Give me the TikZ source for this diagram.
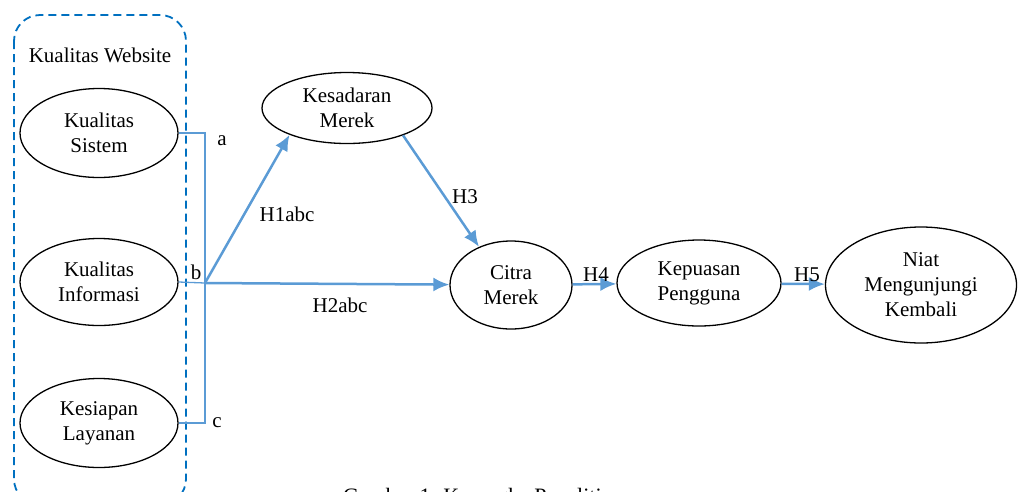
\documentclass[tikz,border=0pt]{standalone}
\usepackage{fontspec}
\setmainfont{Liberation Serif}
\usepackage{xcolor}
\usepackage{tikz}
\usetikzlibrary{arrows.meta, shapes.geometric, positioning}

\definecolor{garisbiru}{RGB}{91,155,213}
\definecolor{kotakbiru}{RGB}{0,112,192}

\tikzset{
    teks/.style={font=\fontsize{21}{25}\selectfont, align=center, inner sep=0pt},
    variabel/.style={teks, draw, ellipse, line width=1.3pt},
    panah/.style={-{Latex[length=16pt,width=14pt]}, draw=garisbiru, fill=garisbiru, line width=2.5pt},
    kurung/.style={draw=garisbiru, line width=1.3pt}
}

\begin{document}
\begin{tikzpicture}[x=1pt, y=-1pt]
    \useasboundingbox (0,0) rectangle (1019,491);
    \clip (0,0) rectangle (1019,491);

    % Kotak putus-putus untuk Kualitas Website
    \draw[kotakbiru, line width=1.8pt, dash pattern=on 8pt off 5pt, rounded corners=26pt]
        (14,15) rectangle (186,505);
    \node[teks] (kw) at (100,55) {Kualitas Website};

    % Variabel-variabel
    \node[variabel, minimum width=158pt, minimum height=89pt] (ks) at (99,133) {Kualitas\\Sistem};
    \node[variabel, minimum width=158pt, minimum height=87pt] (ki) at (99,282) {Kualitas\\Informasi};
    \node[variabel, minimum width=158pt, minimum height=89pt] (kl) at (99,423) {Kesiapan\\Layanan};
    \node[variabel, minimum width=170pt, minimum height=71pt] (km) at (347,108) {Kesadaran\\Merek};
    \node[variabel, minimum width=122pt, minimum height=88pt] (cm) at (511,285) {Citra\\Merek};
    \node[variabel, minimum width=164pt, minimum height=86pt] (kp) at (699,283) {Kepuasan\\Pengguna};
    \node[variabel, minimum width=191pt, minimum height=116pt] (nm) at (921,285) {Niat\\Mengunjungi\\Kembali};

    % Kurung penghubung a, b, c
    \coordinate (j) at (205,283);
    \draw[kurung] (ks.east) -| (j) |- (kl.east);
    \draw[kurung] (ki.east) -- (j);
    \node[teks] (la) at (222,141) {a};
    \node[teks] (lb) at (196,272) {b};
    \node[teks] (lc) at (217,423) {c};

    % Panah hipotesis
    \draw[panah] (j) -- (km.205);
    \draw[panah] (j) -- (cm);
    \draw[panah] (km.334) -- (cm.130);
    \draw[panah] (cm) -- (kp);
    \draw[panah] (kp) -- (nm);

    \node[teks] (h1) at (287,214) {H1abc};
    \node[teks] (h2) at (340,305) {H2abc};
    \node[teks] (h3) at (465,197) {H3};
    \node[teks] (h4) at (596,275) {H4};
    \node[teks] (h5) at (807,275) {H5};

    % Judul gambar (terpotong)
    \node[font=\fontsize{22}{26}\selectfont, anchor=base west, inner sep=0pt] (judul) at (343,503)
        {Gambar 1. Kerangka Penelitian};
\end{tikzpicture}
\end{document}
